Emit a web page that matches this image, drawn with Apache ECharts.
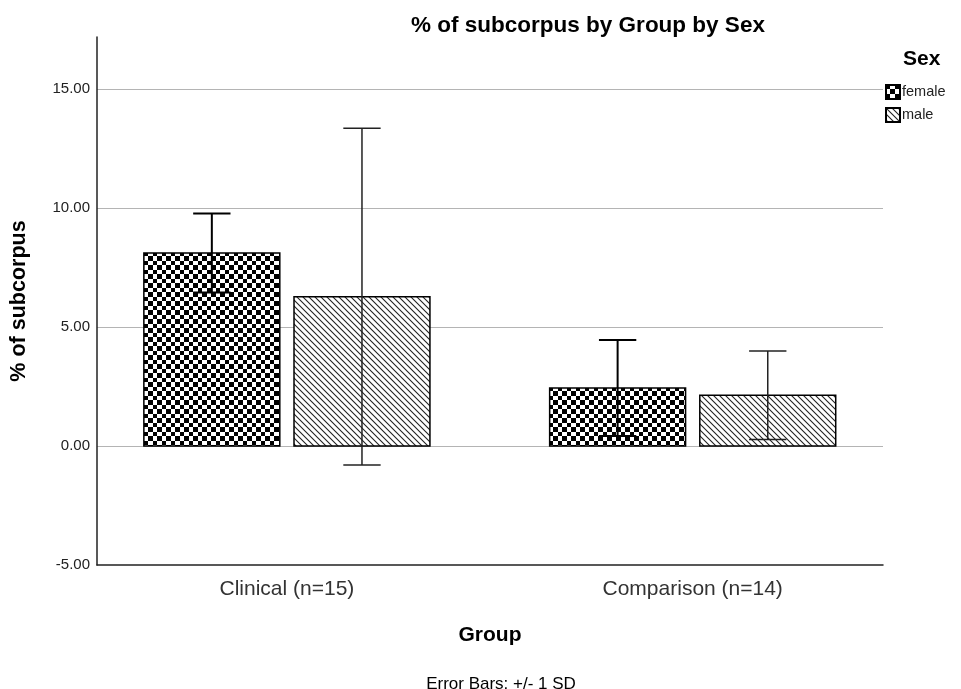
<!DOCTYPE html>
<html>
<head>
<meta charset="utf-8">
<style>
  html, body { margin: 0; padding: 0; background: #ffffff; }
  #chart { width: 961px; height: 689px; }
</style>
<script src="https://cdn.jsdelivr.net/npm/echarts@6/dist/echarts.min.js"></script>
</head>
<body>
<div id="chart"></div>
<script>
// Group categories and the two sex series: mean % of subcorpus and its SD
const groups = ['Clinical (n=15)', 'Comparison (n=14)'];
const sexes = ['female', 'male'];
const femaleMean = [8.12, 2.44];
const femaleSD = [1.66, 2.02];
const maleMean = [6.28, 2.14];
const maleSD = [7.08, 1.86];
const yTicks = [-5, 0, 5, 10, 15];

const FONT = '"Liberation Sans", Arial, sans-serif';

// Checkerboard fill for the female bars (9px period, 4/5px cells)
function checkerPattern() {
  const c = document.createElement('canvas');
  c.width = 9; c.height = 9;
  const g = c.getContext('2d');
  g.fillStyle = '#ffffff'; g.fillRect(0, 0, 9, 9);
  g.fillStyle = '#000000';
  g.fillRect(0, 0, 4, 4);
  g.fillRect(4, 4, 5, 5);
  return c;
}
// Diagonal hatching for the male bars
function hatchPattern(p) {
  const c = document.createElement('canvas');
  c.width = p; c.height = p;
  const g = c.getContext('2d');
  g.fillStyle = '#ffffff'; g.fillRect(0, 0, p, p);
  g.strokeStyle = '#222222'; g.lineWidth = 1.1;
  g.beginPath();
  g.moveTo(-1, -1); g.lineTo(p + 1, p + 1);
  g.moveTo(-p - 1, -1); g.lineTo(1, p + 1);
  g.moveTo(p - 1, -1); g.lineTo(2 * p + 1, p + 1);
  g.stroke();
  return c;
}
const femaleFill = { image: checkerPattern(), repeat: 'repeat' };
const maleFill = { image: hatchPattern(6), repeat: 'repeat' };

// Bar geometry in x-axis units (one unit = distance between groups)
const BAR_W = 0.335;
const HALF_SEP = 0.185;
const CAP_W = 0.092;

function makeSeries(name, means, sds, side, fill, errWidth, errColor) {
  return {
    name: name,
    type: 'custom',
    coordinateSystem: 'cartesian2d',
    itemStyle: { color: fill, borderColor: '#000', borderWidth: 1.5 },
    data: means.map((m, i) => [i, m, sds[i]]),
    encode: { x: 0, y: 1 },
    renderItem: function (params, api) {
      const x = api.value(0) + side * HALF_SEP;
      const m = api.value(1);
      const sd = api.value(2);
      const p0 = api.coord([x - BAR_W / 2, 0]);
      const p1 = api.coord([x + BAR_W / 2, m]);
      const top = api.coord([x, m + sd]);
      const bot = api.coord([x, m - sd]);
      const capL = api.coord([x - CAP_W / 2, 0])[0];
      const capR = api.coord([x + CAP_W / 2, 0])[0];
      const eStyle = { stroke: errColor, lineWidth: errWidth };
      return {
        type: 'group',
        children: [
          {
            type: 'rect',
            shape: { x: p0[0], y: p1[1], width: p1[0] - p0[0], height: p0[1] - p1[1] },
            style: { fill: fill, stroke: '#000', lineWidth: 1.5 }
          },
          { type: 'line', shape: { x1: top[0], y1: top[1], x2: bot[0], y2: bot[1] }, style: eStyle },
          { type: 'line', shape: { x1: capL, y1: top[1], x2: capR, y2: top[1] }, style: eStyle },
          { type: 'line', shape: { x1: capL, y1: bot[1], x2: capR, y2: bot[1] }, style: eStyle }
        ]
      };
    }
  };
}

const chart = echarts.init(document.getElementById('chart'), null, { renderer: 'canvas' });
chart.setOption({
  animation: false,
  backgroundColor: '#ffffff',
  title: [
    {
      text: '% of subcorpus by Group by Sex',
      left: 583, top: 9, textAlign: 'center',
      textStyle: { fontFamily: FONT, fontSize: 22.5, fontWeight: 'bold', color: '#000' }
    },
    {
      text: 'Sex',
      left: 898, top: 44,
      textStyle: { fontFamily: FONT, fontSize: 21, fontWeight: 'bold', color: '#000' }
    },
    {
      text: 'Error Bars: +/- 1 SD',
      left: 496, top: 671, textAlign: 'center',
      textStyle: { fontFamily: FONT, fontSize: 17, fontWeight: 'normal', color: '#000' }
    }
  ],
  legend: {
    data: sexes,
    orient: 'vertical',
    left: 880, top: 79,
    itemWidth: 14, itemHeight: 14, itemGap: 7,
    icon: 'rect',
    textStyle: { fontFamily: FONT, fontSize: 14.5, lineHeight: 14, color: '#222', padding: [0, 0, 0, -3] }
  },
  grid: { left: 97, right: 78, top: 37, bottom: 124, containLabel: false },
  xAxis: {
    type: 'value',
    min: -0.468, max: 1.469,
    name: 'Group', nameLocation: 'middle', nameGap: 60,
    nameTextStyle: { fontFamily: FONT, fontSize: 21, fontWeight: 'bold', color: '#000' },
    axisLine: { show: true, onZero: false, lineStyle: { color: '#222', width: 1.5 } },
    axisTick: { show: false },
    splitLine: { show: false },
    axisLabel: {
      customValues: [0, 1],
      formatter: v => groups[Math.round(v)],
      margin: 14,
      fontFamily: FONT, fontSize: 21, color: '#333'
    }
  },
  yAxis: {
    type: 'value',
    min: yTicks[0], max: 17.2, interval: 5,
    name: '% of subcorpus', nameLocation: 'middle', nameGap: 67,
    nameTextStyle: { fontFamily: FONT, fontSize: 21.5, fontWeight: 'bold', color: '#000' },
    axisLine: { show: true, onZero: false, lineStyle: { color: '#222', width: 1.5 } },
    axisTick: { show: false },
    splitLine: { show: true, showMinLine: false, showMaxLine: false, lineStyle: { color: '#b4b4b4', width: 1 } },
    axisLabel: {
      showMaxLabel: false,
      margin: 7,
      formatter: v => v.toFixed(2),
      fontFamily: FONT, fontSize: 15, color: '#222'
    }
  },
  series: [
    makeSeries('female', femaleMean, femaleSD, -1, femaleFill, 2, '#000'),
    makeSeries('male', maleMean, maleSD, 1, maleFill, 1.5, '#222')
  ]
});
</script>
</body>
</html>
